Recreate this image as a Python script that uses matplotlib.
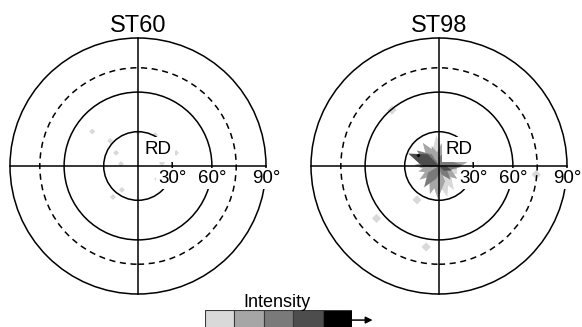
import numpy as np
import matplotlib.pyplot as plt
from matplotlib.patches import Circle, Rectangle, Polygon

plt.rcParams['font.family'] = ['Liberation Sans', 'DejaVu Sans']

titles = ['ST60', 'ST98']
ring_tilts = [30, 60, 75, 90]          # 75 deg ring is dashed
label_tilts = [30, 60, 90]
level_colors = ['#d9d9d9', '#a6a6a6', '#7a7a7a', '#4d4d4d', '#000000']

# ST98 texture near RD: rays (azimuth deg, tilt extent deg, intensity level 1-5)
st98_ray_az = [158, 145, 125, 110, 95, 82, 60, 35, 12, 2, -12, -35, -58, -75,
               -92, -108, -125, -145, -165, 178, -20, 140, -100, 30, 70, -50,
               -135, 165]
st98_ray_tilt = [29, 24, 25, 19, 27, 21, 17, 15, 30, 21, 26, 20, 25, 28,
                 29, 26, 23, 21, 19, 22, 12, 11, 11, 10, 14, 16, 15, 16]
st98_ray_level = [4, 3, 2, 2, 1, 2, 1, 3, 2, 3, 1, 2, 1, 1,
                  2, 2, 3, 2, 2, 2, 4, 3, 3, 3, 3, 3, 2, 3]

# isolated poles (azimuth deg, tilt deg, intensity level)
st60_spot_az = [138, 149, 173, 90, 61, 19, 7, 236, 143, 231, 326]
st60_spot_tilt = [32.7, 22.6, 15.2, 29.7, 30.9, 34.9, 21.4, 25.4, 48.2, 34.6, 20.4]
st60_spot_level = [1, 1, 1, 1, 1, 1, 1, 1, 1, 1, 1]

st98_spot_az = [130, 237, 220, 261, -5, 153]
st98_spot_tilt = [59.4, 35.0, 65.0, 65.3, 74.6, 20.4]
st98_spot_level = [1, 1, 1, 1, 1, 5]


def stereo(tilt):
    # stereographic radius, 90 deg -> 1
    return np.tan(np.radians(np.asarray(tilt, dtype=float)) / 2)


def to_xy(az, tilt):
    r = stereo(tilt)
    a = np.radians(np.asarray(az, dtype=float))
    return r * np.cos(a), r * np.sin(a)


fig = plt.figure(figsize=(5.82, 3.27), dpi=100)
W, H, R, CY = 582, 327, 128, 166

panels = [
    dict(x0=0, x1=291, cx=138, rays=None, spot_size=9,
         spots=(st60_spot_az, st60_spot_tilt, st60_spot_level)),
    dict(x0=291, x1=582, cx=439, spot_size=22,
         rays=(st98_ray_az, st98_ray_tilt, st98_ray_level),
         spots=(st98_spot_az, st98_spot_tilt, st98_spot_level)),
]

for title, p in zip(titles, panels):
    ax = fig.add_axes([p['x0'] / W, 0, (p['x1'] - p['x0']) / W, 1])
    ax.set_xlim((p['x0'] - p['cx']) / R, (p['x1'] - p['cx']) / R)
    ax.set_ylim((CY - H) / R, CY / R)
    ax.axis('off')
    ax.patch.set_alpha(0)

    # intensity rays, lighter first
    if p['rays'] is not None:
        az, tl, lv = p['rays']
        for i in np.argsort(lv, kind='stable'):
            r = stereo(tl[i])
            a = np.radians(az[i])
            u = np.array([np.cos(a), np.sin(a)])
            n = np.array([-u[1], u[0]])
            w = 0.2 * r
            verts = [(0, 0), 0.45 * r * u + w * n, r * u, 0.45 * r * u - w * n]
            ax.add_patch(Polygon(verts, closed=True, fc=level_colors[lv[i] - 1],
                                 ec='none', zorder=1))

    az, tl, lv = p['spots']
    sx, sy = to_xy(az, tl)
    sizes = [4 if l == 5 else p['spot_size'] for l in lv]
    ax.scatter(sx, sy, s=sizes, marker='D', c=[level_colors[l - 1] for l in lv],
               linewidths=0, zorder=1)

    # rings and axes
    for t in ring_tilts:
        ax.add_patch(Circle((0, 0), stereo(t), fill=False, lw=1.1, color='black',
                            ls=(0, (4, 3)) if t == 75 else '-', zorder=2))
    rmax = stereo(90)
    ax.plot([-rmax, rmax], [0, 0], color='black', lw=1.1, zorder=2)
    ax.plot([0, 0], [-rmax, rmax], color='black', lw=1.1, zorder=2)

    for t in label_tilts:
        ax.text(stereo(t), -17 / R, f'{t}°', ha='center', va='baseline',
                fontsize=13.5, zorder=3,
                bbox=dict(fc='white', ec='none', pad=1.5))
    ax.text(20 / R, 12 / R, 'RD', ha='center', va='baseline', fontsize=13.5,
            zorder=3, bbox=dict(fc='white', ec='none', pad=2.5))
    ax.text(0, 134 / R, title, ha='center', va='baseline', fontsize=17)

# intensity scale
lax = fig.add_axes([205 / W, -4 / H, 147 / W, 21 / H])
for i, c in enumerate(level_colors):
    lax.add_patch(Rectangle((i, 0), 1, 1, fc=c, ec='#3a3a3a', lw=0.8))
lax.set_xlim(0, 5)
lax.set_ylim(0, 1)
lax.axis('off')
lax.annotate('', xy=(5.7, 0.52), xytext=(5.0, 0.52), annotation_clip=False,
             arrowprops=dict(arrowstyle='-|>', lw=1.1, color='black',
                             mutation_scale=10, shrinkA=0, shrinkB=0))
fig.text(277 / W, 1 - 307 / H, 'Intensity', ha='center', va='baseline', fontsize=13)

fig.savefig('out.png', dpi=100)
